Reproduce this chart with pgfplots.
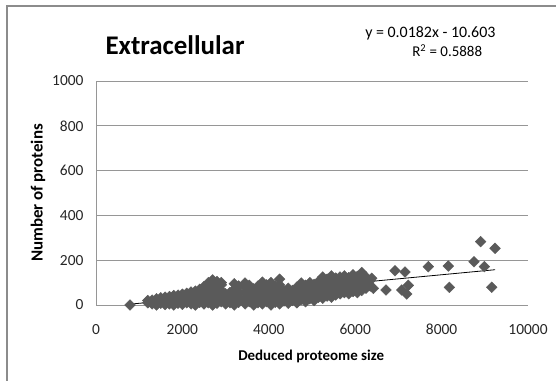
\documentclass[border=0pt]{standalone}
\usepackage{fontspec}
\setmainfont{Carlito}
\usepackage{pgfplots}
\pgfplotsset{compat=1.18}
\definecolor{gridgray}{RGB}{150,150,150}
\definecolor{markgray}{RGB}{90,90,90}
\definecolor{bordergray}{RGB}{140,140,140}
\begin{document}
\begin{tikzpicture}
\useasboundingbox (0,0) rectangle (556bp,381bp);
\draw[bordergray, line width=1.3bp] (7bp,-5bp) -- (7bp,375bp) -- (565bp,375bp);
\begin{axis}[
  at={(96bp,76bp)}, anchor=south west,
  scale only axis, width=432bp, height=224bp,
  xmin=0, xmax=10000, ymin=0, ymax=1000,
  xtick={0,2000,4000,6000,8000,10000},
  ytick={0,200,400,600,800,1000},
  scaled x ticks=false,
  axis x line*=bottom, axis y line*=left,
  axis line style={gridgray, line width=0.8bp, -},
  ymajorgrids, major grid style={gridgray, line width=0.8bp},
  major tick length=0pt,
  /pgf/number format/assume math mode=true,
  /pgf/number format/1000 sep={},
  ticklabel style={font=\fontsize{15.5}{18}\selectfont, text=black!85},
  yticklabel style={anchor=east, xshift=-9bp},
  xticklabel style={anchor=base, yshift=-29bp},
  xlabel={Deduced proteome size},
  ylabel={Number of proteins},
  xlabel style={font=\bfseries\fontsize{15}{18}\selectfont, at={(axis description cs:0.498,-0.228)}, anchor=center},
  ylabel style={font=\bfseries\fontsize{17}{20}\selectfont, at={(axis description cs:-0.134,0.5)}, anchor=center},
  clip=false,
]
\addplot[only marks, mark=square*, mark size=3.8bp,
  mark options={rotate=45, fill=markgray, draw=markgray}] coordinates {
(787,0)
(1200,10) (1200,20)
(1300,5) (1300,22)
(1400,0) (1400,15) (1400,28)
(1500,8) (1500,25) (1500,32)
(1600,2) (1600,18) (1600,35)
(1700,5) (1700,22) (1700,38)
(1800,0) (1800,15) (1800,30) (1800,42)
(1900,8) (1900,25) (1900,44)
(2000,3) (2000,20) (2000,35) (2000,48)
(2100,10) (2100,28) (2100,45) (2100,52)
(2200,5) (2200,18) (2200,38) (2200,58)
(2300,0) (2300,25) (2300,45) (2300,62)
(2400,12) (2400,30) (2400,52) (2400,70)
(2500,5) (2500,22) (2500,40) (2500,65) (2500,82)
(2600,10) (2600,35) (2600,55) (2600,80) (2600,100)
(2700,0) (2700,20) (2700,45) (2700,70) (2700,95) (2700,112)
(2800,8) (2800,30) (2800,60) (2800,85) (2800,105)
(2900,15) (2900,40) (2900,65) (2900,90) (2900,100)
(3000,5) (3000,25) (3000,50)
(3100,10) (3100,35) (3100,55)
(3200,0) (3200,20) (3200,45) (3200,70) (3200,95)
(3300,12) (3300,35) (3300,60) (3300,85)
(3450,5) (3450,28) (3450,55) (3450,80) (3450,98)
(3550,15) (3550,40) (3550,65) (3550,88)
(3650,0) (3650,25) (3650,50) (3650,72)
(3750,10) (3750,35) (3750,60) (3750,85)
(3850,5) (3850,30) (3850,55) (3850,80) (3850,102)
(3950,15) (3950,40) (3950,65) (3950,90)
(4050,0) (4050,22) (4050,48) (4050,75) (4050,100)
(4150,12) (4150,35) (4150,58) (4150,82)
(4250,5) (4250,30) (4250,55) (4250,90) (4250,115)
(4350,18) (4350,40) (4350,62)
(4450,8) (4450,30) (4450,55) (4450,75)
(4550,20) (4550,42) (4550,65)
(4650,10) (4650,35) (4650,58) (4650,80)
(4750,25) (4750,48) (4750,72) (4750,98)
(4850,15) (4850,38) (4850,62) (4850,88)
(4950,28) (4950,50) (4950,75) (4950,100)
(5050,20) (5050,45) (5050,68) (5050,92)
(5150,35) (5150,58) (5150,82) (5150,105)
(5250,30) (5250,55) (5250,78) (5250,100) (5250,125)
(5350,40) (5350,65) (5350,90) (5350,115)
(5450,35) (5450,60) (5450,85) (5450,110) (5450,130)
(5550,45) (5550,70) (5550,95) (5550,120)
(5650,50) (5650,75) (5650,100) (5650,125)
(5750,55) (5750,80) (5750,105) (5750,130)
(5850,50) (5850,72) (5850,98) (5850,122)
(5950,60) (5950,85) (5950,110) (5950,135)
(6050,55) (6050,80) (6050,105) (6050,128)
(6150,65) (6150,90) (6150,115) (6150,145)
(6250,75) (6250,100) (6250,125)
(6350,85) (6350,110) (6382,119)
(6420,74) (6713,67)
(6922,153) (7153,147) (7230,88) (7076,67) (7192,49)
(7693,171) (8156,174) (8180,79)
(8751,193) (8905,283) (8990,171) (9160,79) (9237,253)
};
\addplot[black, line width=0.8bp] coordinates {(787,3.72) (9237,157.51)};
\node[anchor=west, font=\bfseries\fontsize{27}{32}\selectfont] at (axis description cs:0.014,1.161) {Extracellular};
\node[anchor=center, font=\fontsize{16}{19}\selectfont] at (axis description cs:0.774,1.212) {y = 0.0182x - 10.603};
\node[anchor=center, font=\fontsize{15}{18}\selectfont] at (axis description cs:0.813,1.136) {R\textsuperscript{2} = 0.5888};
\end{axis}
\end{tikzpicture}
\end{document}
